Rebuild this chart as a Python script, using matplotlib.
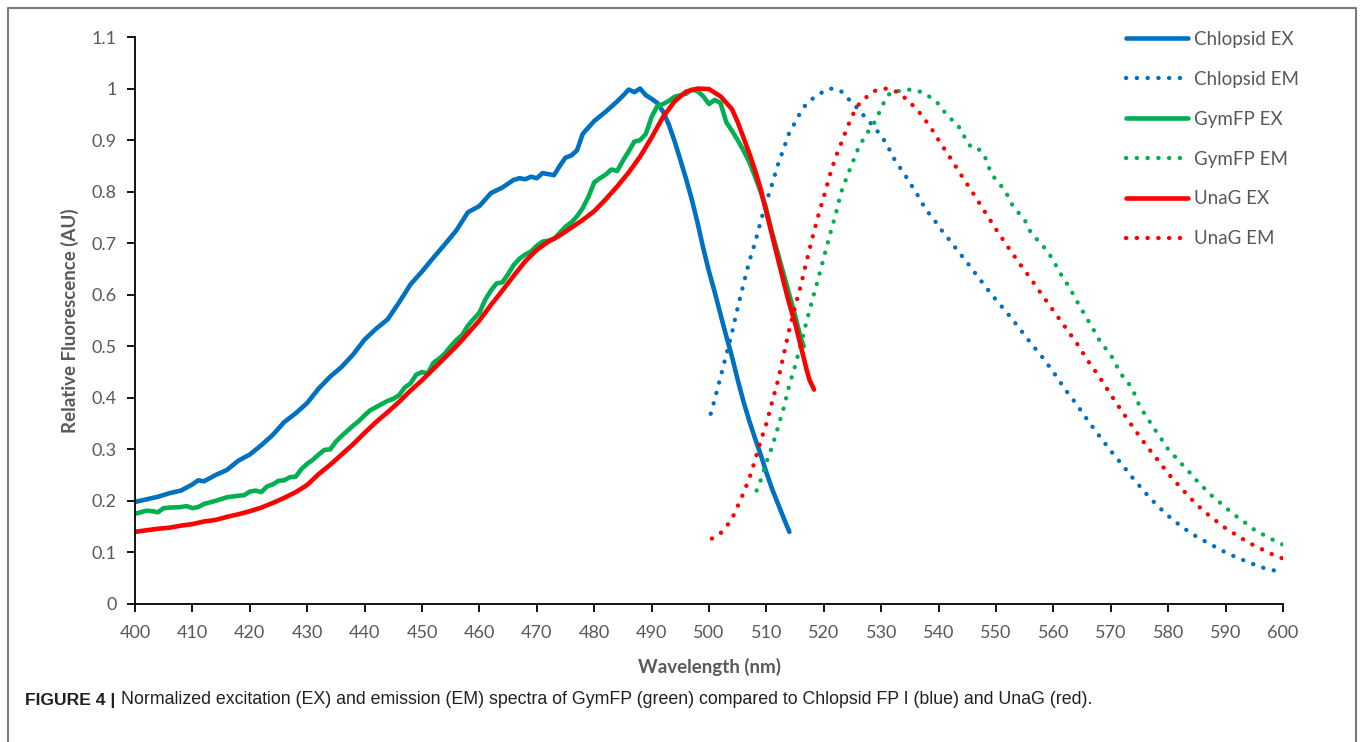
import matplotlib
matplotlib.use('Agg')
import matplotlib.pyplot as plt
from matplotlib.lines import Line2D

# Chlopsid FP I excitation (blue solid)
chl_ex_wl = [400, 402, 404, 406, 408, 410, 411, 412, 414, 416, 418, 420, 422, 424, 426, 428, 430,
             432, 434, 436, 438, 440, 442, 444, 446, 448, 450, 452, 454, 456, 458, 460, 462, 464,
             466, 467, 468, 469, 470, 471, 472, 473, 474, 475, 476, 477, 478, 480, 482, 484, 485,
             486, 487, 488, 489, 490, 491, 492, 493, 494, 495, 496, 497, 498, 499, 500, 501, 502,
             503, 504, 505, 506, 507, 508, 509, 510, 511, 512, 513, 514]
chl_ex = [0.198, 0.203, 0.208, 0.215, 0.22, 0.232, 0.24, 0.238, 0.25, 0.26, 0.278, 0.29, 0.308,
          0.328, 0.353, 0.37, 0.39, 0.418, 0.441, 0.46, 0.484, 0.513, 0.534, 0.552, 0.585, 0.62,
          0.645, 0.672, 0.698, 0.725, 0.76, 0.772, 0.797, 0.808, 0.823, 0.826, 0.824, 0.829, 0.826,
          0.836, 0.834, 0.832, 0.85, 0.866, 0.87, 0.88, 0.912, 0.937, 0.955, 0.975, 0.986, 0.998,
          0.993, 1.0, 0.987, 0.98, 0.972, 0.955, 0.93, 0.898, 0.862, 0.825, 0.785, 0.74, 0.69,
          0.645, 0.605, 0.562, 0.52, 0.48, 0.435, 0.393, 0.356, 0.322, 0.29, 0.255, 0.223, 0.195,
          0.167, 0.14]

# Chlopsid FP I emission (blue dotted)
chl_em_wl = [500.3, 501, 502, 503, 504, 505, 506, 507, 508, 509, 510, 511, 512, 513, 514, 515, 516,
             517, 518, 519, 520, 521, 522, 523, 524, 525, 526, 527, 528, 529, 530, 531, 532, 533,
             534, 535, 536, 537, 538, 539, 540, 541, 542, 543, 544, 545, 546, 547, 548, 549, 550,
             552, 554, 556, 558, 560, 562, 564, 566, 568, 570, 572, 574, 576, 578, 580, 582, 584,
             586, 588, 590, 592, 594, 596, 598, 600]
chl_em = [0.369, 0.397, 0.44, 0.483, 0.526, 0.575, 0.62, 0.664, 0.70, 0.742, 0.78, 0.815, 0.852,
          0.883, 0.915, 0.934, 0.955, 0.971, 0.98, 0.987, 0.995, 1.0, 0.999, 0.995, 0.983, 0.972,
          0.96, 0.947, 0.935, 0.922, 0.908, 0.892, 0.868, 0.851, 0.835, 0.817, 0.8, 0.78, 0.762,
          0.749, 0.733, 0.718, 0.705, 0.69, 0.676, 0.662, 0.647, 0.633, 0.618, 0.604, 0.59, 0.564,
          0.536, 0.507, 0.48, 0.45, 0.417, 0.388, 0.356, 0.326, 0.297, 0.27, 0.242, 0.216, 0.192,
          0.171, 0.153, 0.137, 0.124, 0.112, 0.10, 0.09, 0.081, 0.072, 0.066, 0.062]

# GymFP excitation (green solid)
gym_ex_wl = [400, 401, 402, 403, 404, 405, 406, 408, 409, 410, 411, 412, 413, 414, 416, 418, 419,
             420, 421, 422, 423, 424, 425, 426, 427, 428, 429, 430, 431, 432, 433, 434, 435, 436,
             437, 438, 439, 440, 441, 442, 443, 444, 445, 446, 447, 448, 449, 450, 451, 452, 453,
             454, 455, 456, 457, 458, 459, 460, 461, 462, 463, 464, 465, 466, 467, 468, 469, 470,
             471, 472, 473, 474, 475, 476, 477, 478, 479, 480, 481, 482, 483, 484, 485, 486, 487,
             488, 489, 490, 491, 492, 493, 494, 495, 496, 497, 498, 499, 500, 501, 502, 503, 504,
             505, 506, 507, 508, 509, 510, 511, 512, 513, 514, 515, 516, 516.5]
gym_ex = [0.175, 0.178, 0.181, 0.18, 0.178, 0.186, 0.187, 0.188, 0.19, 0.186, 0.188, 0.194, 0.197,
          0.2, 0.207, 0.21, 0.211, 0.218, 0.22, 0.217, 0.228, 0.232, 0.239, 0.24, 0.246, 0.247,
          0.262, 0.272, 0.28, 0.29, 0.299, 0.3, 0.315, 0.326, 0.336, 0.346, 0.355, 0.366, 0.376,
          0.382, 0.388, 0.394, 0.398, 0.405, 0.42, 0.428, 0.445, 0.45, 0.447, 0.468, 0.476, 0.486,
          0.5, 0.512, 0.522, 0.54, 0.553, 0.565, 0.59, 0.608, 0.622, 0.624, 0.64, 0.658, 0.67,
          0.678, 0.684, 0.695, 0.703, 0.705, 0.708, 0.72, 0.732, 0.74, 0.752, 0.768, 0.79, 0.818,
          0.826, 0.833, 0.843, 0.84, 0.86, 0.878, 0.897, 0.9, 0.912, 0.945, 0.966, 0.97, 0.976,
          0.984, 0.987, 0.99, 0.998, 0.995, 0.985, 0.97, 0.978, 0.972, 0.935, 0.918, 0.9, 0.88,
          0.858, 0.83, 0.8, 0.765, 0.72, 0.68, 0.64, 0.6, 0.56, 0.515, 0.50]

# GymFP emission (green dotted)
gym_em_wl = [508.3, 509, 510, 511, 512, 513, 514, 515, 516, 517, 518, 519, 520, 521, 522, 523, 524,
             525, 526, 527, 528, 529, 530, 531, 532, 533, 534, 535, 536, 537, 538, 539, 540, 541,
             542, 543, 544, 545, 546, 547, 548, 549, 550, 551, 552, 553, 554, 555, 556, 557, 558,
             559, 560, 561, 562, 563, 564, 565, 566, 567, 568, 569, 570, 571, 572, 573, 574, 575,
             576, 577, 578, 579, 580, 581, 582, 583, 584, 585, 586, 587, 588, 589, 590, 591, 592,
             593, 594, 595, 596, 597, 598, 599, 600]
gym_em = [0.22, 0.24, 0.275, 0.305, 0.342, 0.38, 0.425, 0.462, 0.504, 0.548, 0.59, 0.63, 0.672,
          0.714, 0.753, 0.798, 0.828, 0.856, 0.884, 0.904, 0.921, 0.937, 0.962, 0.985, 0.995,
          0.995, 0.996, 0.998, 0.997, 0.993, 0.987, 0.98, 0.97, 0.955, 0.942, 0.934, 0.918, 0.895,
          0.883, 0.882, 0.87, 0.84, 0.822, 0.81, 0.793, 0.771, 0.758, 0.745, 0.722, 0.709, 0.697,
          0.684, 0.666, 0.645, 0.628, 0.61, 0.589, 0.57, 0.551, 0.532, 0.512, 0.497, 0.483, 0.462,
          0.443, 0.43, 0.411, 0.384, 0.367, 0.35, 0.333, 0.317, 0.30, 0.288, 0.276, 0.264, 0.252,
          0.239, 0.228, 0.216, 0.206, 0.197, 0.187, 0.178, 0.169, 0.161, 0.153, 0.144, 0.138,
          0.132, 0.126, 0.12, 0.115]

# UnaG excitation (red solid)
una_ex_wl = [400, 402, 404, 406, 408, 410, 412, 414, 416, 418, 420, 422, 424, 426, 428, 430, 432,
             434, 436, 438, 440, 442, 444, 446, 448, 450, 452, 454, 456, 458, 460, 462, 464, 466,
             468, 470, 472, 474, 476, 478, 480, 482, 484, 486, 488, 490, 492, 494, 496, 498, 500,
             502, 504, 505, 506, 507, 508, 509, 510, 511, 512, 513, 514, 515, 516, 517, 517.5, 518.3]
una_ex = [0.14, 0.143, 0.146, 0.148, 0.152, 0.155, 0.16, 0.163, 0.169, 0.174, 0.18, 0.187, 0.196,
          0.206, 0.217, 0.231, 0.252, 0.27, 0.29, 0.31, 0.332, 0.353, 0.372, 0.392, 0.414, 0.434,
          0.456, 0.478, 0.5, 0.525, 0.55, 0.58, 0.608, 0.637, 0.665, 0.687, 0.703, 0.715, 0.73,
          0.745, 0.762, 0.785, 0.81, 0.837, 0.868, 0.905, 0.945, 0.975, 0.994, 1.0, 0.999, 0.985,
          0.96, 0.935, 0.905, 0.875, 0.842, 0.805, 0.76, 0.715, 0.67, 0.625, 0.582, 0.545, 0.5,
          0.455, 0.435, 0.416]

# UnaG emission (red dotted)
una_em_wl = [500.5, 502, 503, 504, 505, 506, 507, 508, 509, 510, 511, 512, 513, 514, 515, 516, 517,
             518, 519, 520, 521, 522, 523, 524, 525, 526, 527, 528, 529, 530, 531, 532, 533, 534,
             535, 536, 537, 538, 539, 540, 542, 544, 546, 548, 550, 552, 554, 556, 558, 560, 562,
             564, 566, 568, 570, 572, 574, 576, 578, 580, 582, 584, 586, 588, 590, 592, 594, 596,
             598, 600]
una_em = [0.127, 0.137, 0.15, 0.165, 0.19, 0.215, 0.243, 0.278, 0.316, 0.35, 0.392, 0.433, 0.483,
          0.533, 0.577, 0.618, 0.665, 0.71, 0.752, 0.79, 0.83, 0.865, 0.893, 0.922, 0.948, 0.968,
          0.979, 0.989, 0.996, 0.999, 1.0, 0.997, 0.992, 0.983, 0.973, 0.962, 0.949, 0.934, 0.918,
          0.9, 0.866, 0.831, 0.797, 0.762, 0.727, 0.694, 0.662, 0.632, 0.6, 0.569, 0.538, 0.507,
          0.472, 0.441, 0.406, 0.373, 0.341, 0.31, 0.282, 0.253, 0.228, 0.204, 0.182, 0.164, 0.147,
          0.133, 0.119, 0.108, 0.097, 0.088]

x_ticks = list(range(400, 601, 10))
y_ticks = [0, 0.1, 0.2, 0.3, 0.4, 0.5, 0.6, 0.7, 0.8, 0.9, 1.0, 1.1]
y_ticklabels = ['0', '0.1', '0.2', '0.3', '0.4', '0.5', '0.6', '0.7', '0.8', '0.9', '1', '1.1']

BLUE, GREEN, RED = '#0070C0', '#00B050', '#FF0000'
GREY = '#595959'
FONT = ['Lato', 'DejaVu Sans']
dots = (0, (0.05, 2.45))

plt.rcParams['font.family'] = FONT

fig = plt.figure(figsize=(13.6, 7.42), dpi=100)
ax = fig.add_axes([135 / 1360, 1 - 604 / 742, (1283 - 135) / 1360, (604 - 37) / 742])

solid_kw = dict(lw=3.3, solid_capstyle='round', solid_joinstyle='round')
dot_kw = dict(lw=3.1, ls=dots, dash_capstyle='round')

ax.plot(chl_ex_wl, chl_ex, color=BLUE, label='Chlopsid EX', **solid_kw)
ax.plot(chl_em_wl, chl_em, color=BLUE, label='Chlopsid EM', **dot_kw)
ax.plot(gym_ex_wl, gym_ex, color=GREEN, label='GymFP EX', **solid_kw)
ax.plot(gym_em_wl, gym_em, color=GREEN, label='GymFP EM', **dot_kw)
ax.plot(una_ex_wl, una_ex, color=RED, label='UnaG EX', **solid_kw)
ax.plot(una_em_wl, una_em, color=RED, label='UnaG EM', **dot_kw)

ax.set_xlim(400, 600)
ax.set_ylim(0, 1.1)
ax.set_xticks(x_ticks)
ax.set_yticks(y_ticks)
ax.set_yticklabels(y_ticklabels)
for s in ['top', 'right']:
    ax.spines[s].set_visible(False)
for s in ['left', 'bottom']:
    ax.spines[s].set_linewidth(1.3)
    ax.spines[s].set_color('black')
ax.tick_params(axis='both', direction='out', length=6, width=1.3, colors='black',
               labelcolor=GREY, labelsize=13)
ax.tick_params(axis='y', pad=7)
ax.tick_params(axis='x', pad=9)
ax.set_xlabel('Wavelength (nm)', fontsize=13.5, fontweight='bold', color=GREY, labelpad=12)
ax.set_ylabel('Relative Fluorescence (AU)', fontsize=13.5, fontweight='bold', color=GREY,
              labelpad=9)
ax.patch.set_alpha(0)

leg = fig.legend(loc='upper left', bbox_to_anchor=(1126 / 1360, 1 - 31 / 742), frameon=False,
                 fontsize=13.5, handlelength=3.3, handletextpad=0.3, labelspacing=1.22,
                 borderpad=0, borderaxespad=0)
for t in leg.get_texts():
    t.set_color(GREY)

# outer frame
fig.add_artist(Line2D([8 / 1360, 8 / 1360, 1356 / 1360, 1356 / 1360],
                      [0, 1 - 8 / 742, 1 - 8 / 742, 0], transform=fig.transFigure,
                      color='#7a7a7a', lw=1.5))

# caption
cap_y = 1 - 700 / 742
fig.text(25 / 1360, cap_y, 'FIGURE 4 |', fontsize=12.6, fontweight='bold', va='center',
         family=['Liberation Sans Narrow', 'Liberation Sans'], color='#231f20')
fig.text(121 / 1360, cap_y,
         'Normalized excitation (EX) and emission (EM) spectra of GymFP (green) compared to '
         'Chlopsid FP I (blue) and UnaG (red).',
         fontsize=12.8, va='center', family=['Liberation Sans Narrow', 'Liberation Sans'],
         color='#231f20')

fig.savefig('out.png', dpi=100)
